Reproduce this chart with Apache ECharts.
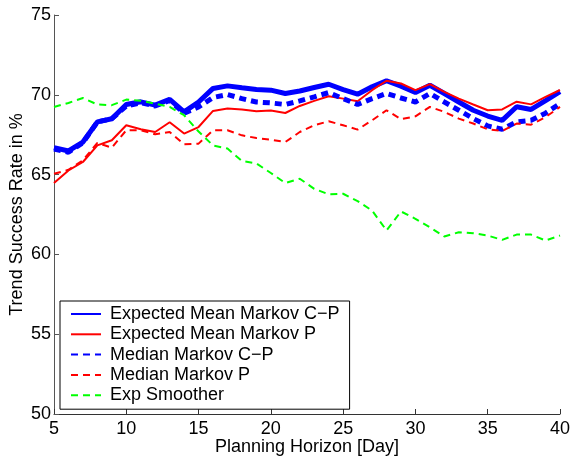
<!DOCTYPE html>
<html>
<head>
<meta charset="utf-8">
<script src="https://cdn.jsdelivr.net/npm/echarts@6/dist/echarts.min.js"></script>
<style>
html,body{margin:0;padding:0;background:#fff;}
#chart{width:571px;height:456px;}
</style>
</head>
<body>
<div id="chart"></div>
<script>
const days = [5,6,7,8,9,10,11,12,13,14,15,16,17,18,19,20,21,22,23,24,25,26,27,28,29,30,31,32,33,34,35,36,37,38,39,40];
const expectedMeanCP = [66.69,66.48,67.04,68.3,68.5,69.39,69.56,69.35,69.72,68.93,69.55,70.4,70.56,70.44,70.33,70.29,70.08,70.24,70.46,70.66,70.33,70.04,70.5,70.88,70.54,70.14,70.6,70.08,69.55,69.03,68.67,68.4,69.25,69.08,69.63,70.2];
const expectedMeanP = [64.47,65.26,65.79,66.83,67.15,68.09,67.84,67.67,68.28,67.57,67.98,68.99,69.14,69.08,68.97,69.01,68.86,69.3,69.62,69.91,69.76,69.6,70.29,70.88,70.71,70.29,70.67,70.18,69.76,69.39,69.03,69.08,69.57,69.4,69.87,70.3];
const medianCP = [66.6,66.4,67.0,68.3,68.5,69.3,69.5,69.3,69.65,68.85,69.24,69.83,70.02,69.76,69.55,69.49,69.39,69.62,69.87,70.14,69.76,69.39,69.76,70.08,69.8,69.55,70.08,69.55,69.03,68.51,68.05,67.84,68.3,68.4,68.85,69.45];
const medianP = [65.05,65.3,65.9,66.98,66.69,67.78,67.78,67.53,67.67,66.9,66.94,67.78,67.78,67.46,67.29,67.19,67.04,67.67,68.09,68.34,68.09,67.82,68.4,69.03,68.47,68.65,69.24,68.93,68.51,68.2,67.84,67.73,68.2,68.13,68.6,69.24];
const expSmoother = [69.24,69.49,69.8,69.39,69.35,69.7,69.62,69.45,69.24,68.72,67.7,66.83,66.63,65.85,65.7,65.1,64.47,64.74,64.11,63.76,63.8,63.34,62.75,61.5,62.69,62.23,61.7,61.12,61.39,61.33,61.18,60.91,61.24,61.24,60.87,61.18];
const seriesNames = ['Expected Mean Markov C\u2212P','Expected Mean Markov P','Median Markov C\u2212P','Median Markov P','Exp Smoother'];
const xTicks = [5,10,15,20,25,30,35,40];
const yTicks = [50,55,60,65,70,75];

const pairs = vals => days.map((d,i)=>[d, vals[i]]);
const FONT = 'Liberation Sans, Arial, Helvetica, sans-serif';

const chart = echarts.init(document.getElementById('chart'), null, {renderer:'canvas'});
function mk(name, vals, color, width, dashed){
  return {
    name, type:'line', data: pairs(vals), showSymbol:false, symbol:'none',
    lineStyle:{color, width, type: dashed ? [7,5] : 'solid'},
    itemStyle:{color},
    emphasis:{disabled:true}
  };
}
chart.setOption({
  animation:false,
  backgroundColor:'#fff',
  textStyle:{fontFamily:FONT},
  grid:{left:54, right:11, top:15, bottom:42, containLabel:false, outerBoundsMode:'none'},
  xAxis:{
    type:'value', min:xTicks[0], max:xTicks[xTicks.length-1], interval:5,
    name:'Planning Horizon [Day]', nameLocation:'middle', nameGap:24, nameMoveOverlap:false,
    nameTextStyle:{fontSize:18, color:'#000', fontFamily:FONT},
    axisLine:{show:true, onZero:false, lineStyle:{color:'#333', width:1}},
    axisTick:{show:true, inside:true, length:5, lineStyle:{color:'#333'}},
    axisLabel:{fontSize:18, color:'#000', margin:6, fontFamily:FONT},
    splitLine:{show:false}
  },
  yAxis:{
    type:'value', min:yTicks[0], max:yTicks[yTicks.length-1], interval:5,
    name:'Trend Success Rate in %', nameLocation:'middle', nameGap:28, nameMoveOverlap:false,
    nameTextStyle:{fontSize:18, color:'#000', fontFamily:FONT},
    axisLine:{show:true, onZero:false, lineStyle:{color:'#555', width:1}},
    axisTick:{show:true, inside:true, length:5, lineStyle:{color:'#555'}},
    axisLabel:{fontSize:18, color:'#000', margin:3, fontFamily:FONT},
    splitLine:{show:false}
  },
  legend:{
    show:true,
    orient:'vertical', left:60, top:301,
    backgroundColor:'#fff', borderColor:'#000', borderWidth:1,
    padding:[4,10,5,10], itemGap:2.3, itemWidth:30, itemHeight:14,
    itemStyle:{opacity:0},
    textStyle:{fontSize:18, color:'#000', fontFamily:FONT, padding:[0,0,0,4]},
    data: seriesNames,
    selectedMode:false
  },
  series:[
    mk(seriesNames[0], expectedMeanCP, '#0000ff', 5, false),
    mk(seriesNames[1], expectedMeanP, '#ff0000', 2, false),
    mk(seriesNames[2], medianCP, '#0000ff', 5, true),
    mk(seriesNames[3], medianP, '#ff0000', 2, true),
    mk(seriesNames[4], expSmoother, '#00ff00', 2, true)
  ]
});
</script>
</body>
</html>
